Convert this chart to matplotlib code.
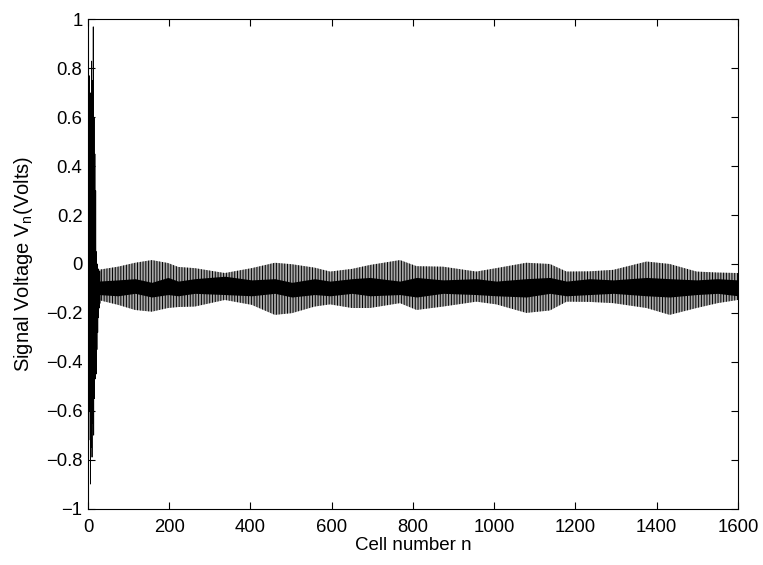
import numpy as np
import matplotlib
matplotlib.use('Agg')
import matplotlib.pyplot as plt

# transient at the start of the line (cell, volts)
trans_n = list(range(0, 31))
trans_v = [-0.1, 0.55, -0.72, 0.77, -0.6, 0.6, -0.9, 0.7, -0.75, 0.83, -0.79,
           0.75, -0.65, 0.97, -0.7, 0.6, -0.55, 0.45, -0.47, 0.3, -0.45,
           0.05, -0.35, 0.0, -0.28, -0.02, -0.22, -0.03, -0.18, -0.03, -0.16]

# envelope of the fast oscillation after the transient
band_n = [25, 74, 116, 157, 197, 222, 263, 337, 403, 460, 502, 558, 596, 650,
          694, 768, 809, 874, 956, 1005, 1079, 1137, 1178, 1235, 1293, 1375,
          1432, 1498, 1550, 1600]
band_hi = [-0.024, -0.011, 0.005, 0.016, 0.004, -0.012, -0.017, -0.037,
           -0.017, 0.005, -0.001, -0.015, -0.031, -0.02, -0.004, 0.016,
           -0.009, -0.011, -0.031, -0.017, 0.005, 0.0, -0.031, -0.03,
           -0.024, 0.01, 0.0, -0.031, -0.035, -0.037]
band_lo = [-0.147, -0.167, -0.188, -0.195, -0.18, -0.176, -0.174, -0.147,
           -0.167, -0.208, -0.201, -0.174, -0.165, -0.18, -0.18, -0.16,
           -0.188, -0.174, -0.154, -0.165, -0.2, -0.19, -0.154, -0.155,
           -0.16, -0.18, -0.208, -0.18, -0.16, -0.147]
# dark core where the traces overlap
core_hi = [-0.07, -0.065, -0.06, -0.075, -0.055, -0.07, -0.06, -0.05,
           -0.065, -0.06, -0.075, -0.06, -0.07, -0.06, -0.055, -0.07,
           -0.055, -0.065, -0.06, -0.07, -0.06, -0.055, -0.07, -0.06,
           -0.065, -0.055, -0.06, -0.065, -0.06, -0.065]
core_lo = [-0.125, -0.13, -0.12, -0.135, -0.125, -0.13, -0.12, -0.125,
           -0.13, -0.12, -0.135, -0.125, -0.13, -0.12, -0.13, -0.125,
           -0.135, -0.12, -0.125, -0.13, -0.135, -0.12, -0.13, -0.125,
           -0.12, -0.13, -0.135, -0.125, -0.12, -0.13]

yticks = [-1, -0.8, -0.6, -0.4, -0.2, 0, 0.2, 0.4, 0.6, 0.8, 1]
ytick_labels = ['\u22121', '\u22120.8', '\u22120.6', '\u22120.4', '\u22120.2',
                '0', '0.2', '0.4', '0.6', '0.8', '1']
xticks = [0, 200, 400, 600, 800, 1000, 1200, 1400, 1600]

plt.rcParams['font.family'] = ['Liberation Sans', 'DejaVu Sans']
plt.rcParams['mathtext.fontset'] = 'custom'
plt.rcParams['mathtext.rm'] = 'Liberation Sans'
plt.rcParams['hatch.linewidth'] = 0.7
plt.rcParams['hatch.color'] = 'black'

fig = plt.figure(figsize=(7.63, 5.65), dpi=100)
ax = fig.add_axes([0.1153, 0.1, 0.9672 - 0.1153, 0.9655 - 0.1])

ax.fill_between(band_n, band_hi, band_lo, facecolor='#a8a8a8',
                edgecolor='black', hatch='|' * 6, linewidth=0)
ax.fill_between(band_n, core_hi, core_lo, color='black', linewidth=0)
ax.plot(trans_n, trans_v, color='black', linewidth=0.6)

ax.set_xlim(0, 1600)
ax.set_ylim(-1, 1)
ax.set_xticks(xticks)
ax.set_yticks(yticks)
ax.set_yticklabels(ytick_labels)
ax.tick_params(direction='in', top=True, right=True, length=5, width=0.8,
               labelsize=13.3)
ax.tick_params(axis='x', pad=7.5)
ax.tick_params(axis='y', pad=4)
for s in ax.spines.values():
    s.set_linewidth(0.8)

ax.set_xlabel('Cell number n', fontsize=13.5, labelpad=1)
ax.set_ylabel(r'Signal Voltage V$_\mathregular{n}$(Volts)', fontsize=14.5,
              labelpad=8)

fig.savefig('out.png', dpi=100)
